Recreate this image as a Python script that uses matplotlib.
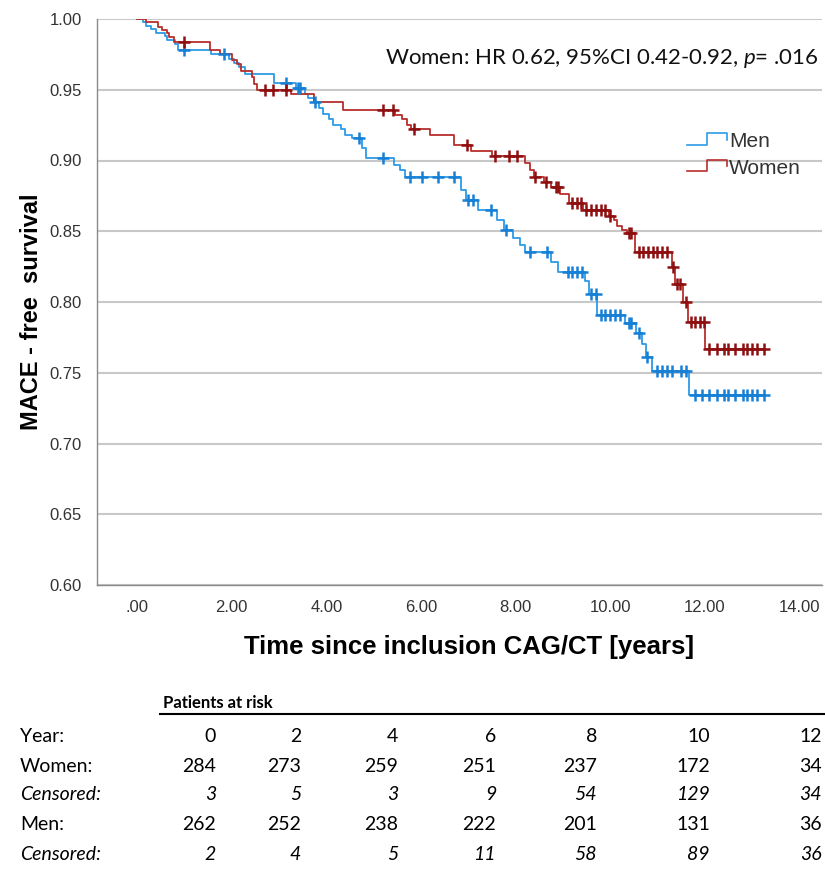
import numpy as np
import matplotlib
matplotlib.use("Agg")
import matplotlib.pyplot as plt
from matplotlib.legend_handler import HandlerBase
from matplotlib.lines import Line2D

# ---------------- data ----------------
men_times = [0.00, 0.12, 0.19, 0.30, 0.40, 0.58, 0.64, 0.79, 0.86, 1.57, 1.95, 2.05, 2.15, 2.29,
             2.90, 3.35, 3.54, 3.62, 3.73, 3.85, 3.93, 4.05, 4.15, 4.30, 4.40, 4.55, 4.75, 4.83,
             5.43, 5.55, 5.66, 6.85, 6.95, 7.20, 7.60, 7.75, 7.95, 8.10, 8.20, 8.75, 8.90,
             9.47, 9.55, 9.72, 10.32, 10.55, 10.68, 10.75, 10.88, 11.67]
men_surv = [1.000, 0.998, 0.995, 0.993, 0.990, 0.988, 0.985, 0.982, 0.978, 0.975, 0.972, 0.969, 0.966, 0.961,
            0.955, 0.951, 0.947, 0.944, 0.941, 0.937, 0.933, 0.929, 0.925, 0.922, 0.918, 0.916, 0.909, 0.902,
            0.897, 0.893, 0.888, 0.879, 0.872, 0.865, 0.858, 0.851, 0.845, 0.840, 0.835, 0.828, 0.821,
            0.815, 0.806, 0.791, 0.785, 0.778, 0.770, 0.761, 0.751, 0.734]
men_censored = [1.00, 1.84, 3.15, 3.40, 3.45, 3.75, 4.70, 5.20, 5.76, 6.03, 6.37, 6.70, 7.00, 7.10,
                7.48, 7.80, 8.30, 8.67, 9.10, 9.20, 9.30, 9.40, 9.60, 9.70, 9.80, 9.90, 10.00,
                10.10, 10.20, 10.40, 10.45, 10.60, 10.78, 11.00, 11.10, 11.20, 11.30, 11.50, 11.60,
                11.80, 11.95, 12.10, 12.25, 12.40, 12.50, 12.65, 12.80, 12.90, 13.00, 13.10, 13.25]

women_times = [0.00, 0.19, 0.45, 0.53, 0.62, 0.68, 0.78, 1.53, 1.75, 2.00, 2.10, 2.20, 2.42, 2.47,
               2.53, 3.26, 3.73, 4.36, 5.45, 5.60, 5.70, 5.80, 6.20, 6.70, 7.05, 7.50, 8.20, 8.30,
               8.40, 8.60, 8.75, 8.95, 9.12, 9.43, 9.98, 10.08, 10.15, 10.25, 10.35, 10.53, 11.30,
               11.37, 11.55, 11.65, 12.00]
women_surv = [1.000, 0.998, 0.994, 0.992, 0.990, 0.987, 0.984, 0.978, 0.975, 0.971, 0.968, 0.963, 0.959, 0.954,
              0.950, 0.947, 0.941, 0.936, 0.932, 0.929, 0.925, 0.922, 0.918, 0.911, 0.907, 0.903, 0.898, 0.893,
              0.888, 0.885, 0.881, 0.876, 0.870, 0.865, 0.861, 0.858, 0.854, 0.851, 0.849, 0.835, 0.825,
              0.813, 0.800, 0.786, 0.767]
women_censored = [0.98, 2.70, 2.87, 3.15, 5.20, 5.40, 5.85, 6.98, 7.56, 7.86, 8.03, 8.42, 8.65, 8.85,
                  8.90, 9.20, 9.30, 9.38, 9.50, 9.60, 9.70, 9.80, 9.90, 10.00, 10.40, 10.45, 10.60,
                  10.70, 10.80, 10.90, 11.00, 11.10, 11.20, 11.32, 11.42, 11.48, 11.60, 11.70, 11.80,
                  11.90, 11.98, 12.10, 12.25, 12.40, 12.50, 12.65, 12.80, 12.90, 13.00, 13.10, 13.25]
t_end = 13.25

annotation = "Women: HR 0.62, 95%CI 0.42-0.92, $\\mathit{p}$= .016"
x_ticks = [0, 2, 4, 6, 8, 10, 12, 14]
x_ticklabels = [".00", "2.00", "4.00", "6.00", "8.00", "10.00", "12.00", "14.00"]
y_ticks = [0.60, 0.65, 0.70, 0.75, 0.80, 0.85, 0.90, 0.95, 1.00]

risk_years = ["0", "2", "4", "6", "8", "10", "12"]
risk_women = ["284", "273", "259", "251", "237", "172", "34"]
risk_women_cens = ["3", "5", "3", "9", "54", "129", "34"]
risk_men = ["262", "252", "238", "222", "201", "131", "36"]
risk_men_cens = ["2", "4", "5", "11", "58", "89", "36"]

# ---------------- style ----------------
plt.rcParams['mathtext.fontset'] = 'custom'
plt.rcParams['mathtext.rm'] = 'Lato'
plt.rcParams['mathtext.it'] = 'Lato:italic'

MEN_LINE = "#2e9be6"
MEN_CENS = "#1580d6"
WOM_LINE = "#b82e2c"
WOM_CENS = "#8e0f0f"

W, H = 825, 869
fig = plt.figure(figsize=(W / 100, H / 100), dpi=100)
ax = fig.add_axes([97 / W, 1 - 585 / H, (822 - 97) / W, (585 - 19) / H])


def draw_km(times, surv, cens, line_c, cens_c, label):
    t = np.array(times + [t_end])
    s = np.array(surv + [surv[-1]])
    ax.step(t, s, where='post', color=line_c, lw=1.3, label=label, zorder=3)
    c = np.array(cens)
    idx = np.searchsorted(np.array(times), c, side='right') - 1
    ax.plot(c, np.array(surv)[idx], ls='none', marker='+', ms=9, mew=1.8, color=cens_c, zorder=4)


draw_km(men_times, men_surv, men_censored, MEN_LINE, MEN_CENS, "Men")
draw_km(women_times, women_surv, women_censored, WOM_LINE, WOM_CENS, "Women")

ax.set_xlim(-0.85, 14.48)
ax.set_ylim(0.60, 1.00)
ax.set_yticks(y_ticks)
ax.set_yticklabels([f"{v:.2f}" for v in y_ticks])
ax.set_xticks(x_ticks)
ax.set_xticklabels(x_ticklabels)
ax.tick_params(length=0, labelsize=12, labelcolor="#333333")
ax.tick_params(axis='y', pad=11)
ax.tick_params(axis='x', pad=11)
for lab in ax.get_xticklabels() + ax.get_yticklabels():
    lab.set_family("Liberation Sans")
ax.yaxis.grid(True, color="#c8c8c8", lw=1.5)
ax.set_axisbelow(True)
for sp in ["top", "right"]:
    ax.spines[sp].set_visible(False)
for sp in ["left", "bottom"]:
    ax.spines[sp].set_color("#8a8a8a")
    ax.spines[sp].set_linewidth(1.0)

ax.set_ylabel("MACE - free  survival", fontsize=17, fontweight='bold', family="Liberation Sans")
ax.yaxis.set_label_coords(-0.074, 0.482)
ax.set_xlabel("Time since inclusion CAG/CT [years]", fontsize=18.5, fontweight='bold', family="Liberation Sans")
ax.xaxis.set_label_coords(0.513, -0.088)

ax.text(0.9945, 0.931, annotation, transform=ax.transAxes, ha='right', va='center', fontsize=16,
        family="Lato", color="#111111")


class StepHandler(HandlerBase):
    def create_artists(self, legend, orig_handle, xdescent, ydescent, width, height, fontsize, trans):
        x0 = -xdescent
        y0 = -ydescent
        xs = [x0, x0 + width * 0.5, x0 + width * 0.5, x0 + width, x0 + width]
        ys = [y0 + height * 0.15, y0 + height * 0.15, y0 + height * 0.95, y0 + height * 0.95, y0 + height * 0.5]
        ln = Line2D(xs, ys, color=orig_handle.get_color(), lw=1.2)
        ln.set_transform(trans)
        return [ln]


handles, labels = ax.get_legend_handles_labels()
leg = ax.legend(handles, labels, handler_map={h: StepHandler() for h in handles},
                loc='upper right', bbox_to_anchor=(0.997, 0.833), frameon=False,
                prop={'family': 'Liberation Sans', 'size': 15}, handlelength=1.9, handletextpad=0.12,
                labelspacing=0.35, labelcolor="#333333")

# ---------------- risk table ----------------
def fx(px):
    return px / W


def fy(py):
    return 1 - py / H


fig.text(fx(163), fy(703), "Patients at risk", fontsize=12, fontweight='bold', family="Lato",
         ha='left', va='center')
fig.add_artist(Line2D([fx(160), fx(825)], [fy(714), fy(714)], color='black', lw=1.5))

col_right = [216, 301, 398, 496, 597, 710, 822]
rows = [("Year:", risk_years, 'normal', 736),
        ("Women:", risk_women, 'normal', 766),
        ("Censored:", risk_women_cens, 'italic', 795),
        ("Men:", risk_men, 'normal', 824),
        ("Censored:", risk_men_cens, 'italic', 854)]
for name, vals, style, yy in rows:
    fig.text(fx(20), fy(yy), name, fontsize=14, family="Lato", style=style, ha='left', va='center')
    for xr, v in zip(col_right, vals):
        fig.text(fx(xr), fy(yy), v, fontsize=14, family="Lato", style=style, ha='right', va='center')

fig.savefig("out.png", dpi=100)
